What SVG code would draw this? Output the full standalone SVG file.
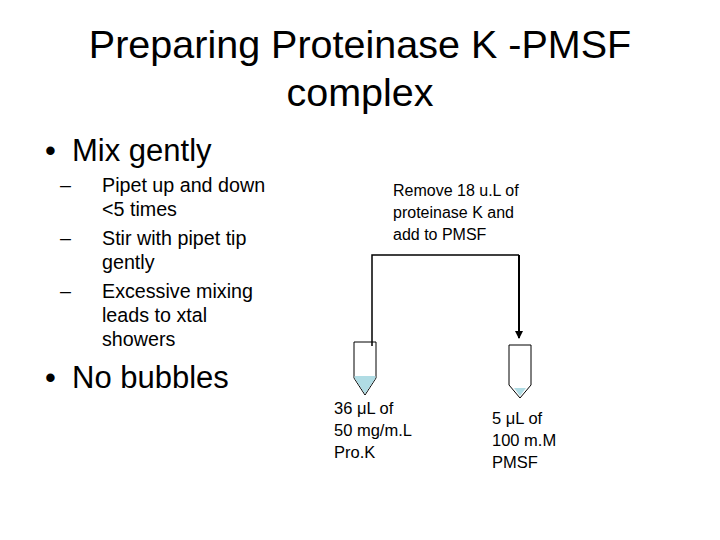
<svg xmlns="http://www.w3.org/2000/svg" width="720" height="540" viewBox="0 0 720 540">
<style>
text{font-family:"Liberation Sans",Arial,sans-serif;fill:#000}
.t{font-size:39.5px}.b1{font-size:31px}.b2{font-size:19.7px}.s{font-size:16px}.l{font-size:16.5px}
.tube{fill:#fff;stroke:#000;stroke-width:1}
.liq{fill:#b0dce4}
</style>
<defs><marker id="a" markerWidth="8" markerHeight="8" refX="7" refY="4" orient="auto" markerUnits="userSpaceOnUse"><path d="M0,0 L8,4 L0,8 Z"/></marker></defs>
<rect width="720" height="540" fill="#fff"/>
<g id="title"><text class="t" x="360" y="58" text-anchor="middle">Preparing Proteinase K -PMSF</text><text class="t" x="360" y="106" text-anchor="middle">complex</text></g>
<g id="bullets">
<text class="b1" x="45" y="161">•</text><text class="b1" x="72" y="161">Mix gently</text>
<text class="b2" x="60" y="192">–</text><text class="b2" x="102" y="192">Pipet up and down</text><text class="b2" x="102" y="216">&lt;5 times</text>
<text class="b2" x="60" y="245">–</text><text class="b2" x="102" y="245">Stir with pipet tip</text><text class="b2" x="102" y="269">gently</text>
<text class="b2" x="60" y="298">–</text><text class="b2" x="102" y="298">Excessive mixing</text><text class="b2" x="102" y="322">leads to xtal</text><text class="b2" x="102" y="346">showers</text>
<text class="b1" x="45" y="388">•</text><text class="b1" x="72" y="388">No bubbles</text>
</g>
<g id="instruction"><text class="s" x="393" y="196">Remove 18 u.L of</text><text class="s" x="393" y="218">proteinase K and</text><text class="s" x="393" y="240">add to PMSF</text></g>
<g id="tube1"><path class="tube" d="M354,342 H376 V378 L365,395 L354,378 Z"/><path class="liq" d="M354.5,376 H375.5 V378 L365,394 L354.5,378 Z"/>
<text class="l" x="334" y="414">36 μL of</text><text class="l" x="334" y="436">50 mg/m.L</text><text class="l" x="334" y="458">Pro.K</text></g>
<g id="tube2"><path class="tube" d="M509,345 H531 V385 L520,398 L509,385 Z"/><path class="liq" d="M514,388 H526 L520,396 Z"/>
<text class="l" x="492" y="424">5 μL of</text><text class="l" x="492" y="446">100 m.M</text><text class="l" x="492" y="468">PMSF</text></g>
<g id="connectors" fill="none" stroke="#000"><path d="M372,346 V255 H519" stroke-width="1.5"/><path d="M519,255 V338" stroke-width="2" marker-end="url(#a)"/></g>
</svg>
